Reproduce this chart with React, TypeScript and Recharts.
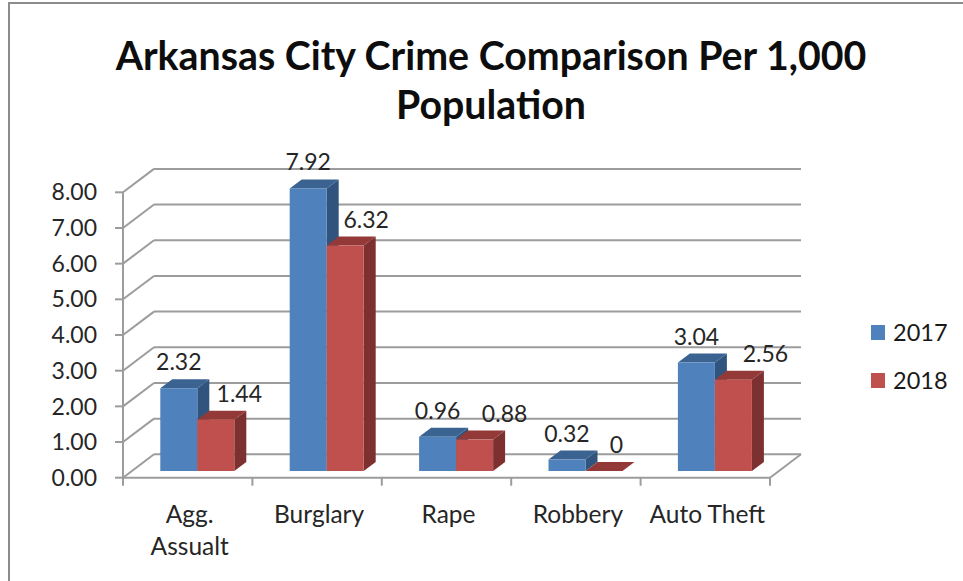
import React from "react";
import { Bar, BarChart, CartesianGrid, LabelList, Legend, XAxis, YAxis } from "recharts";

const categories = ["Agg.\nAssualt", "Burglary", "Rape", "Robbery", "Auto Theft"];
const values2017 = [2.32, 7.92, 0.96, 0.32, 3.04];
const values2018 = [1.44, 6.32, 0.88, 0, 2.56];
const yTicks = [0, 1, 2, 3, 4, 5, 6, 7, 8];
const titleLines = ["Arkansas City Crime Comparison Per 1,000", "Population"];

const rows = categories.map((name, i) => ({ name, y2017: values2017[i], y2018: values2018[i] }));

const FONT = "Lato, sans-serif";
const TEXT = "#262626";
const GRID = "#9c9c9c";

const WIDTH = 963;
const HEIGHT = 581;
const PLOT_LEFT = 123;
const PLOT_RIGHT = 770;
const PLOT_TOP = 192.3;
const PLOT_BOTTOM = 477.7;
const BAND = (PLOT_RIGHT - PLOT_LEFT) / categories.length;

// 3d look: how far the back wall sits from the front plane
const WALL_DX = 31;
const WALL_DY = 23.4;
// bars stand part way into the floor
const BAR_DX = 9.3;
const BAR_DY = 6.7;
const DEPTH_X = 12;
const DEPTH_Y = 9;

// excel put the 2018 labels off to the right of their bars
const labelShift2018 = [23.5, 21, 30, 12.5, 32];

const GridLine = (props: any) => {
  const { x1, x2, y1, y2 } = props;
  const isFloor = Math.abs(y1 - PLOT_BOTTOM) < 1;
  return (
    <g key={props.key ?? `grid-${y1}`} fill="none" stroke={GRID} strokeWidth={2}>
      <line x1={x1} y1={y1} x2={x1 + WALL_DX} y2={y1 - WALL_DY} />
      <line x1={x1 + WALL_DX} y1={y1 - WALL_DY} x2={x2 + WALL_DX} y2={y2 - WALL_DY} />
      {isFloor && <line x1={x2} y1={y2} x2={x2 + WALL_DX} y2={y2 - WALL_DY} />}
    </g>
  );
};

const Bar3D = (props: any) => {
  const { x, y, width, height, front, side, top } = props;
  const left = x + BAR_DX;
  const right = left + width;
  const up = y - BAR_DY;
  const base = up + height;
  const topFace = `${left},${up} ${right},${up} ${right + DEPTH_X},${up - DEPTH_Y} ${left + DEPTH_X},${up - DEPTH_Y}`;
  const sideFace = `${right},${up} ${right + DEPTH_X},${up - DEPTH_Y} ${right + DEPTH_X},${base - DEPTH_Y} ${right},${base}`;
  return (
    <g>
      <polygon points={sideFace} fill={side} />
      <polygon points={topFace} fill={top} />
      <rect x={left} y={up} width={width} height={height} fill={front} />
    </g>
  );
};

const valueLabel = (shift: number[] | null) => (props: any) => {
  const { x, y, width, value, index } = props;
  const dx = shift ? shift[index] : 0;
  return (
    <text
      x={x + BAR_DX + width / 2 + dx}
      y={y - BAR_DY - 27}
      textAnchor="middle"
      dominantBaseline="central"
      fontFamily={FONT}
      fontSize={23}
      fill={TEXT}
    >
      {String(value)}
    </text>
  );
};

const CategoryTick = (props: any) => {
  const { x, payload, index } = props;
  const lines = String(payload.value).split("\n");
  const isLast = index === categories.length - 1;
  return (
    <g>
      <line x1={x - BAND / 2} y1={PLOT_BOTTOM} x2={x - BAND / 2} y2={PLOT_BOTTOM + 8} stroke={GRID} strokeWidth={2} />
      {isLast && <line x1={x + BAND / 2} y1={PLOT_BOTTOM} x2={x + BAND / 2} y2={PLOT_BOTTOM + 8} stroke={GRID} strokeWidth={2} />}
      {lines.map((line, i) => (
        <text
          key={line}
          x={x + 2}
          y={513 + i * 32}
          textAnchor="middle"
          dominantBaseline="central"
          fontFamily={FONT}
          fontSize={24.5}
          fill={TEXT}
        >
          {line}
        </text>
      ))}
    </g>
  );
};

const LegendBox = ({ payload }: any) => (
  <div style={{ fontFamily: FONT, fontSize: 23.5, color: "#1a1a1a" }}>
    {(payload ?? []).map((item: any) => (
      <div key={item.value} style={{ display: "flex", alignItems: "center", height: 48 }}>
        <span style={{ width: 14, height: 15, background: item.color, marginRight: 8 }} />
        {item.value}
      </div>
    ))}
  </div>
);

export default function App() {
  return (
    <div style={{ position: "absolute", left: 0, top: 0, width: WIDTH, height: HEIGHT, overflow: "hidden", background: "#fff" }}>
      <div style={{ position: "absolute", left: 8, top: 2, right: -4, bottom: -4, borderLeft: "2px solid #8c8c8c", borderTop: "2px solid #8c8c8c" }} />
      <BarChart
        width={WIDTH}
        height={HEIGHT}
        data={rows}
        barSize={37}
        barGap={0}
        margin={{ top: PLOT_TOP, right: WIDTH - PLOT_RIGHT - 100, bottom: 0, left: 0 }}
      >
        {titleLines.map((line, i) => (
          <text
            key={line}
            x={491}
            y={54 + i * 49}
            textAnchor="middle"
            dominantBaseline="central"
            fontFamily={FONT}
            fontWeight={700}
            fontSize={39.3}
            fill="#0d0d0d"
          >
            {line}
          </text>
        ))}
        <CartesianGrid vertical={false} horizontal={GridLine} />
        <XAxis
          dataKey="name"
          interval={0}
          height={HEIGHT - PLOT_BOTTOM}
          tickLine={false}
          axisLine={{ stroke: GRID, strokeWidth: 2 }}
          tick={CategoryTick}
        />
        <YAxis
          domain={[0, 8]}
          ticks={yTicks}
          interval={0}
          width={PLOT_LEFT}
          tickSize={8}
          tickMargin={18}
          tickFormatter={(v: number) => v.toFixed(2)}
          axisLine={{ stroke: GRID, strokeWidth: 2 }}
          tickLine={{ stroke: GRID, strokeWidth: 2 }}
          tick={{ fill: TEXT, fontFamily: FONT, fontSize: 23 }}
        />
        <Legend
          layout="vertical"
          align="right"
          verticalAlign="middle"
          width={100}
          content={LegendBox}
          wrapperStyle={{ left: 871, top: 308, right: "auto", bottom: "auto" }}
        />
        <Bar
          dataKey="y2017"
          name="2017"
          fill="#4f81bd"
          isAnimationActive={false}
          shape={(p: any) => <Bar3D {...p} front="#4f81bd" side="#31547f" top="#3b6391" />}
        >
          <LabelList dataKey="y2017" content={valueLabel(null)} />
        </Bar>
        <Bar
          dataKey="y2018"
          name="2018"
          fill="#c0504d"
          isAnimationActive={false}
          shape={(p: any) => <Bar3D {...p} front="#c0504d" side="#7d3030" top="#933a38" />}
        >
          <LabelList dataKey="y2018" content={valueLabel(labelShift2018)} />
        </Bar>
      </BarChart>
    </div>
  );
}
